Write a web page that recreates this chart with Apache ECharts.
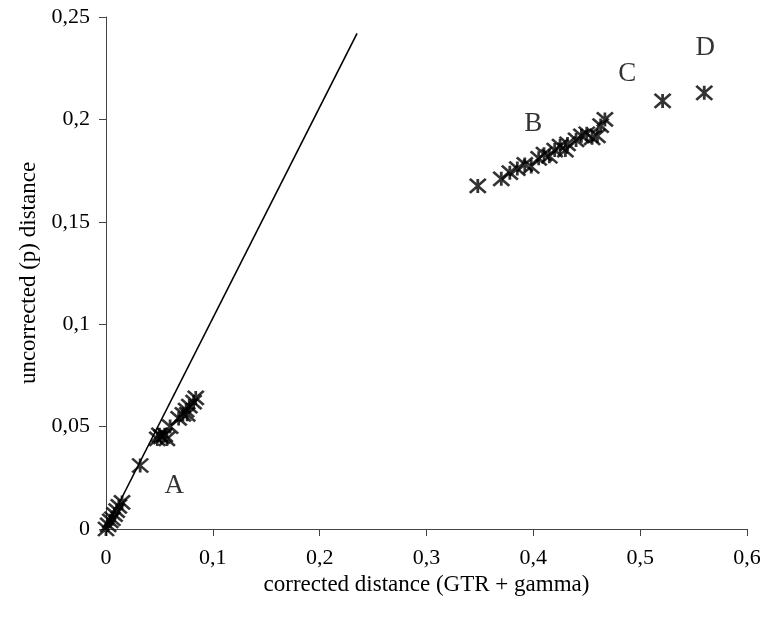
<!DOCTYPE html>
<html>
<head>
<meta charset="utf-8">
<script src="https://cdn.jsdelivr.net/npm/echarts@6/dist/echarts.min.js"></script>
<style>
html,body{margin:0;padding:0;background:#fff;}
#chart{width:765px;height:621px;}
</style>
</head>
<body>
<div id="chart"></div>
<script>
// reference line (p = d)
var lineX = [0, 0.235];
var lineY = [0, 0.242];

// distance pairs: corrected (x), uncorrected (y)
var distX = [0, 0.002, 0.004, 0.006, 0.008, 0.010, 0.012, 0.015,
    0.032,
    0.048, 0.050, 0.052, 0.055, 0.057, 0.060,
    0.068, 0.072, 0.075, 0.076, 0.078, 0.082, 0.084,
    0.348, 0.370, 0.378, 0.385, 0.392, 0.398, 0.405, 0.410, 0.415, 0.420,
    0.425, 0.430, 0.432, 0.440, 0.445, 0.450, 0.455, 0.460, 0.463, 0.467,
    0.521, 0.560];
var distY = [0, 0.002, 0.004, 0.005, 0.007, 0.009, 0.011, 0.013,
    0.031,
    0.044, 0.046, 0.045, 0.046, 0.044, 0.050,
    0.054, 0.056, 0.058, 0.056, 0.060, 0.062, 0.064,
    0.1675, 0.171, 0.174, 0.176, 0.178, 0.177, 0.181, 0.183, 0.182, 0.185,
    0.187, 0.185, 0.188, 0.190, 0.192, 0.193, 0.191, 0.192, 0.197, 0.200,
    0.209, 0.213];

// group labels
var labelText = ['A', 'B', 'C', 'D'];
var labelX = [0.064, 0.400, 0.488, 0.561];
var labelY = [0.021, 0.198, 0.222, 0.235];

var pts = distX.map(function (x, i) { return [x, distY[i]]; });
var linePts = lineX.map(function (x, i) { return [x, lineY[i]]; });
var labPts = labelX.map(function (x, i) { return [x, labelY[i], labelText[i]]; });

function comma(v) { return String(v).replace('.', ','); }

var chart = echarts.init(document.getElementById('chart'));
chart.setOption({
    animation: false,
    backgroundColor: '#fff',
    textStyle: { fontFamily: 'Liberation Serif' },
    grid: { left: 106, right: 18, top: 17, bottom: 92 },
    xAxis: {
        type: 'value', min: 0, max: 0.6, interval: 0.1,
        name: 'corrected distance (GTR + gamma)',
        nameLocation: 'middle', nameGap: 35,
        nameTextStyle: { fontSize: 23, color: '#000', fontFamily: 'Liberation Serif' },
        axisLine: { show: true, lineStyle: { color: '#444', width: 1 } },
        axisTick: { show: true, length: 7, lineStyle: { color: '#444' } },
        axisLabel: { fontSize: 22, color: '#000', margin: 18, formatter: comma },
        splitLine: { show: false }
    },
    yAxis: {
        type: 'value', min: 0, max: 0.25, interval: 0.05,
        name: 'uncorrected (p) distance',
        nameLocation: 'middle', nameGap: 64,
        nameTextStyle: { fontSize: 23, color: '#000', fontFamily: 'Liberation Serif' },
        axisLine: { show: true, lineStyle: { color: '#444', width: 1 } },
        axisTick: { show: true, length: 7, lineStyle: { color: '#444' } },
        axisLabel: { fontSize: 22, color: '#000', margin: 16, formatter: comma },
        splitLine: { show: false }
    },
    series: [
        {
            type: 'line',
            data: linePts,
            symbol: 'none',
            lineStyle: { color: '#000', width: 1.6 },
            z: 2
        },
        {
            type: 'scatter',
            data: pts,
            symbol: 'path://M5,0L5,10M0,0L10,10M10,0L0,10',
            symbolSize: [16, 14],
            itemStyle: { color: 'none', borderColor: '#000', borderWidth: 2.6 },
            z: 3
        },
        {
            type: 'scatter',
            data: labPts,
            symbolSize: 0,
            label: {
                show: true, position: 'inside',
                formatter: function (p) { return p.data[2]; },
                fontSize: 27, color: '#000', fontFamily: 'Liberation Serif'
            },
            z: 4
        }
    ]
});
</script>
</body>
</html>
